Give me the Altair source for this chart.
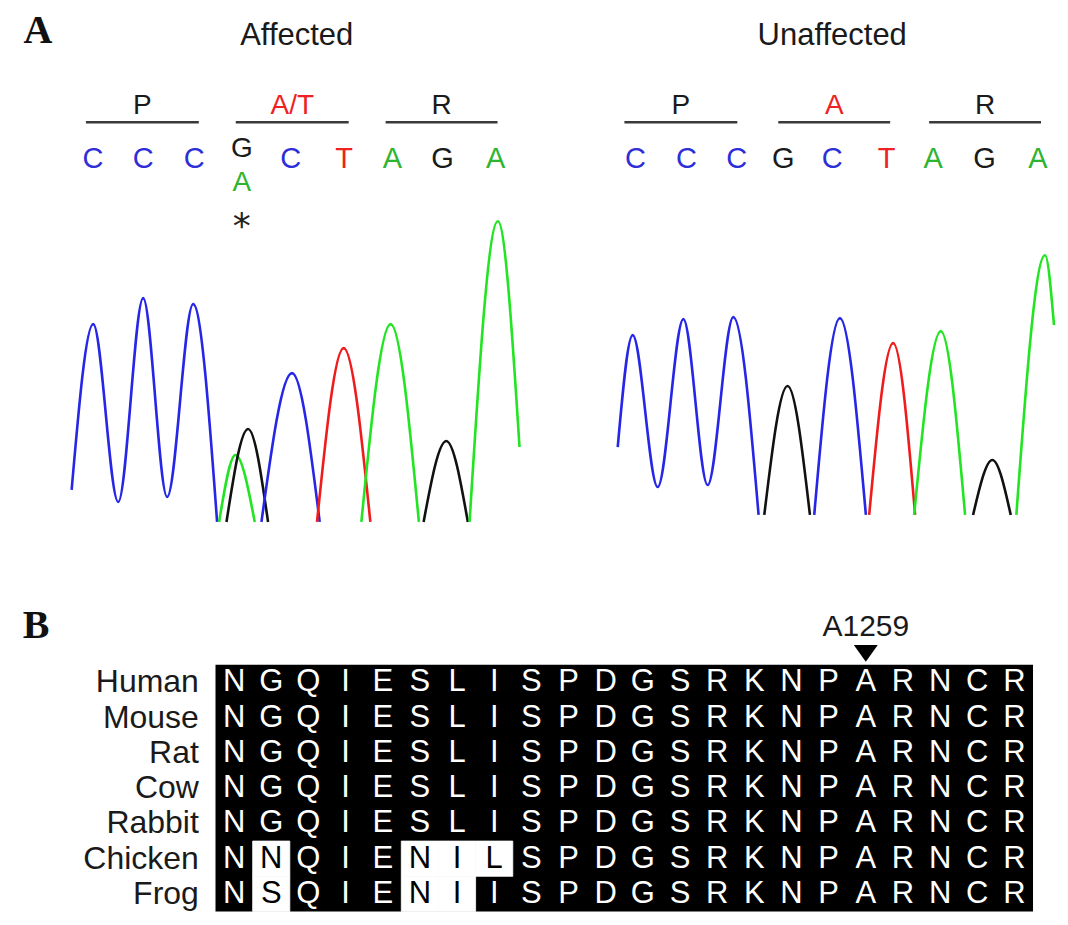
import altair as alt
import pandas as pd

FONT = "Liberation Sans"
SERIF = "Liberation Serif"

BASES = ["A", "C", "G", "T"]
TRACE_COLORS = ["#22e422", "#2626e6", "#111111", "#f01c1c"]
TEXT_COLORS = ["#2fb42f", "#2e2ed8", "#1a1a1a", "#ee2222"]

# ---------------- Panel A: chromatogram peaks (scan, signal) ----------------
aff_C1 = [(1.7, 32), (23.3, 198), (48.3, 20), (73.3, 224), (97.3, 25), (123.3, 218), (147.3, 0)]
aff_A1 = [(149.3, 0), (165.7, 67), (185.0, 0)]
aff_G1 = [(156.7, 0), (178.3, 93), (198.3, 0)]
aff_C2 = [(191.7, 0), (222.3, 149), (250.0, 0)]
aff_T1 = [(247.3, 0), (274.0, 174), (300.7, 0)]
aff_A2 = [(291.7, 0), (321.0, 198), (349.3, 0)]
aff_G2 = [(354.0, 0), (376.7, 81), (398.3, 0)]
aff_A3 = [(400.0, 0), (428.3, 301), (450.0, 75)]

unaff_C1 = [(0.3, 68), (15.3, 180), (40.3, 28), (66.0, 196), (90.3, 30), (116.0, 198), (141.3, 0)]
unaff_G1 = [(147.0, 0), (170.3, 129), (192.7, 0)]
unaff_C2 = [(197.0, 0), (222.7, 197), (248.7, 0)]
unaff_T1 = [(252.0, 0), (276.0, 172), (298.0, 0)]
unaff_A1 = [(297.0, 0), (323.7, 184), (348.0, 0)]
unaff_G2 = [(356.0, 0), (375.3, 55), (393.7, 0)]
unaff_A2 = [(399.3, 0), (428.0, 260), (437.0, 190)]

aff_calls = ["C", "C", "C", "G", "C", "T", "A", "G", "A"]
aff_call_scan = [23, 73.4, 124.5, 172, 221, 274.4, 322.7, 373, 426]
aff_het_index = 3
aff_het_second = "A"

unaff_calls = ["C", "C", "C", "G", "C", "T", "A", "G", "A"]
unaff_call_scan = [18, 69, 119.3, 166, 215, 269.4, 316, 367.5, 421]

aff_codons = ["P", "A/T", "R"]
aff_codon_start = [16, 166, 316]
aff_codon_end = [129, 279, 428]
unaff_codons = ["P", "A", "R"]
unaff_codon_start = [7, 161, 312]
unaff_codon_end = [120, 273, 424]
variant_codon = 1

# ---------------- Panel B: alignment ----------------
species = ["Human", "Mouse", "Rat", "Cow", "Rabbit", "Chicken", "Frog"]
sequences = [
    "NGQIESLISPDGSRKNPARNCR",
    "NGQIESLISPDGSRKNPARNCR",
    "NGQIESLISPDGSRKNPARNCR",
    "NGQIESLISPDGSRKNPARNCR",
    "NGQIESLISPDGSRKNPARNCR",
    "NNQIENILSPDGSRKNPARNCR",
    "NSQIENIISPDGSRKNPARNCR",
]
first_residue = 1242
marker_residue = 1259


def trace_df(segments):
    rows = []
    for k, (base, pts) in enumerate(segments):
        for j, (s, v) in enumerate(pts):
            rows.append({"seg": k, "base": base, "scan": s, "signal": v, "order": j})
    return pd.DataFrame(rows)


def chromatogram(title, title_x, segments, calls, call_scan, codons, cstart, cend,
                 xdom, ydom, width, height, letter=None, het=None):
    xs = alt.Scale(domain=xdom, nice=False, zero=False)
    ys = alt.Scale(domain=ydom, nice=False, zero=False)

    lines = alt.Chart(trace_df(segments)).mark_line(
        interpolate="monotone", strokeWidth=2.6
    ).encode(
        x=alt.X("scan:Q", scale=xs, axis=None),
        y=alt.Y("signal:Q", scale=ys, axis=None),
        color=alt.Color("base:N", scale=alt.Scale(domain=BASES, range=TRACE_COLORS), legend=None),
        detail="seg:N",
        order="order:Q",
    )

    kinds = ["het" if (het is not None and i == het[0]) else "call" for i in range(len(calls))]
    calls_df = pd.DataFrame({"base": calls, "scan": call_scan, "kind": kinds})
    tcolor = alt.Color("base:N", scale=alt.Scale(domain=BASES, range=TEXT_COLORS), legend=None)
    call_base = alt.Chart(calls_df)
    layers = [lines]
    layers.append(
        call_base.transform_filter("datum.kind == 'call'").mark_text(
            font=FONT, fontSize=29, baseline="alphabetic"
        ).encode(x=alt.X("scan:Q", scale=xs, axis=None), y=alt.value(160), text="base:N", color=tcolor)
    )
    if het is not None:
        layers.append(
            call_base.transform_filter("datum.kind == 'het'").mark_text(
                font=FONT, fontSize=28, baseline="alphabetic"
            ).encode(x=alt.X("scan:Q", scale=xs, axis=None), y=alt.value(149), text="base:N", color=tcolor)
        )
        sec_df = pd.DataFrame({"base": [het[1]], "scan": [call_scan[het[0]]]})
        layers.append(
            alt.Chart(sec_df).mark_text(font=FONT, fontSize=28, baseline="alphabetic").encode(
                x=alt.X("scan:Q", scale=xs, axis=None), y=alt.value(183), text="base:N", color=tcolor)
        )
        layers.append(
            alt.Chart(sec_df).mark_text(font="DejaVu Sans", fontSize=36, baseline="alphabetic", text="*",
                                        color="#222222").encode(
                x=alt.X("scan:Q", scale=xs, axis=None), y=alt.value(230))
        )

    codon_df = pd.DataFrame({
        "codon": codons, "start": cstart, "end": cend,
        "variant": [i == variant_codon for i in range(len(codons))],
    })
    layers.append(
        alt.Chart(codon_df).mark_rule(strokeWidth=2.4, color="#3a3a3a").encode(
            x=alt.X("start:Q", scale=xs, axis=None), x2="end:Q", y=alt.value(114))
    )
    layers.append(
        alt.Chart(codon_df).transform_calculate(mid="(datum.start + datum.end) / 2").mark_text(
            font=FONT, fontSize=28, baseline="alphabetic"
        ).encode(
            x=alt.X("mid:Q", scale=xs, axis=None), y=alt.value(106), text="codon:N",
            color=alt.condition("datum.variant", alt.value("#ee2222"), alt.value("#1a1a1a")),
        )
    )
    layers.append(
        alt.Chart(pd.DataFrame({"t": [title]})).mark_text(
            font=FONT, fontSize=31, baseline="alphabetic", color="#1a1a1a"
        ).encode(x=alt.value(title_x), y=alt.value(37), text="t:N")
    )
    if letter is not None:
        layers.append(
            alt.Chart(pd.DataFrame({"t": [letter]})).mark_text(
                font=SERIF, fontSize=40, fontWeight="bold", baseline="alphabetic", color="#111111"
            ).encode(x=alt.value(30), y=alt.value(35), text="t:N")
        )
    return alt.layer(*layers).resolve_scale(color="independent").properties(width=width, height=height)


affected = chromatogram(
    "Affected", 289,
    [("C", aff_C1), ("A", aff_A1), ("G", aff_G1), ("C", aff_C2), ("T", aff_T1),
     ("A", aff_A2), ("G", aff_G2), ("A", aff_A3)],
    aff_calls, aff_call_scan, aff_codons, aff_codon_start, aff_codon_end,
    [-62, 468], [-18, 514], 530, 532, letter="A", het=(aff_het_index, aff_het_second),
)
unaffected = chromatogram(
    "Unaffected", 295,
    [("C", unaff_C1), ("G", unaff_G1), ("C", unaff_C2), ("T", unaff_T1),
     ("A", unaff_A1), ("G", unaff_G2), ("A", unaff_A2)],
    unaff_calls, unaff_call_scan, unaff_codons, unaff_codon_start, unaff_codon_end,
    [-80, 442], [-25, 507], 522, 532,
)

# ---------------- alignment panel ----------------
rows = []
for r, (sp, seq) in enumerate(zip(species, sequences)):
    for i, aa in enumerate(seq):
        rows.append({"species": sp, "row": r, "pos": first_residue + i, "aa": aa,
                     "conserved": aa == sequences[0][i]})
aln = pd.DataFrame(rows)
last_residue = first_residue + len(sequences[0]) - 1

# residue axis: one unit per residue; rows: one unit per species (top to bottom)
xq = alt.Scale(domain=[first_residue - 0.5 - 5.584, first_residue - 0.5 + 22.699], nice=False, zero=False)
yq = alt.Scale(domain=[-3.5425, 7.1417], nice=False, zero=False, reverse=True)

base = alt.Chart(aln).transform_calculate(
    x0="datum.pos - 0.5", x1="datum.pos + 0.5", y0="datum.row", y1="datum.row + 1",
    yc="datum.row + 0.5",
)
block_df = pd.DataFrame({"x0": [first_residue - 0.5], "x1": [last_residue + 0.5],
                         "y0": [0], "y1": [len(species)]})
block = alt.Chart(block_df).mark_rect(color="black").encode(
    x=alt.X("x0:Q", scale=xq, axis=None), x2="x1:Q",
    y=alt.Y("y0:Q", scale=yq, axis=None), y2="y1:Q",
)
white_cells = base.transform_filter("!datum.conserved").mark_rect(
    color="white", stroke="white", strokeWidth=0.8
).encode(
    x=alt.X("x0:Q", scale=xq, axis=None), x2="x1:Q",
    y=alt.Y("y0:Q", scale=yq, axis=None), y2="y1:Q",
)
letters = base.mark_text(font=FONT, fontSize=31, baseline="middle").encode(
    x=alt.X("pos:Q", scale=xq, axis=None),
    y=alt.Y("yc:Q", scale=yq, axis=None),
    text="aa:N",
    color=alt.condition("datum.conserved", alt.value("white"), alt.value("black")),
)
labels = alt.Chart(pd.DataFrame({"species": species, "row": list(range(len(species)))})).transform_calculate(
    yc="datum.row + 0.5"
).mark_text(
    font=FONT, fontSize=32, align="right", baseline="middle", color="#1a1a1a"
).encode(x=alt.value(191), y=alt.Y("yc:Q", scale=yq, axis=None), text="species:N")

marker_df = pd.DataFrame({"pos": [marker_residue], "label": [f"A{marker_residue}"]})
marker_text = alt.Chart(marker_df).mark_text(
    font=FONT, fontSize=30, baseline="alphabetic", color="#1a1a1a"
).encode(x=alt.X("pos:Q", scale=xq, axis=None), y=alt.value(96), text="label:N")
marker_tri = alt.Chart(marker_df).mark_point(
    shape="M-1,-0.7L1,-0.7L0,0.7Z", filled=True, color="black", size=576, opacity=1
).encode(x=alt.X("pos:Q", scale=xq, axis=None), y=alt.value(113.5))
letter_b = alt.Chart(pd.DataFrame({"t": ["B"]})).mark_text(
    font=SERIF, fontSize=40, fontWeight="bold", baseline="alphabetic", color="#111111"
).encode(x=alt.value(28), y=alt.value(98), text="t:N")

panel_b = alt.layer(block, white_cells, letters, labels, marker_text, marker_tri, letter_b).properties(
    width=1052, height=377
)

chart = alt.vconcat(
    alt.hconcat(affected, unaffected, spacing=0),
    panel_b,
    spacing=0,
).properties(padding=0, background="white").configure_view(strokeWidth=0)

chart.save("out.html", embed_options={"renderer": "svg", "actions": False})
